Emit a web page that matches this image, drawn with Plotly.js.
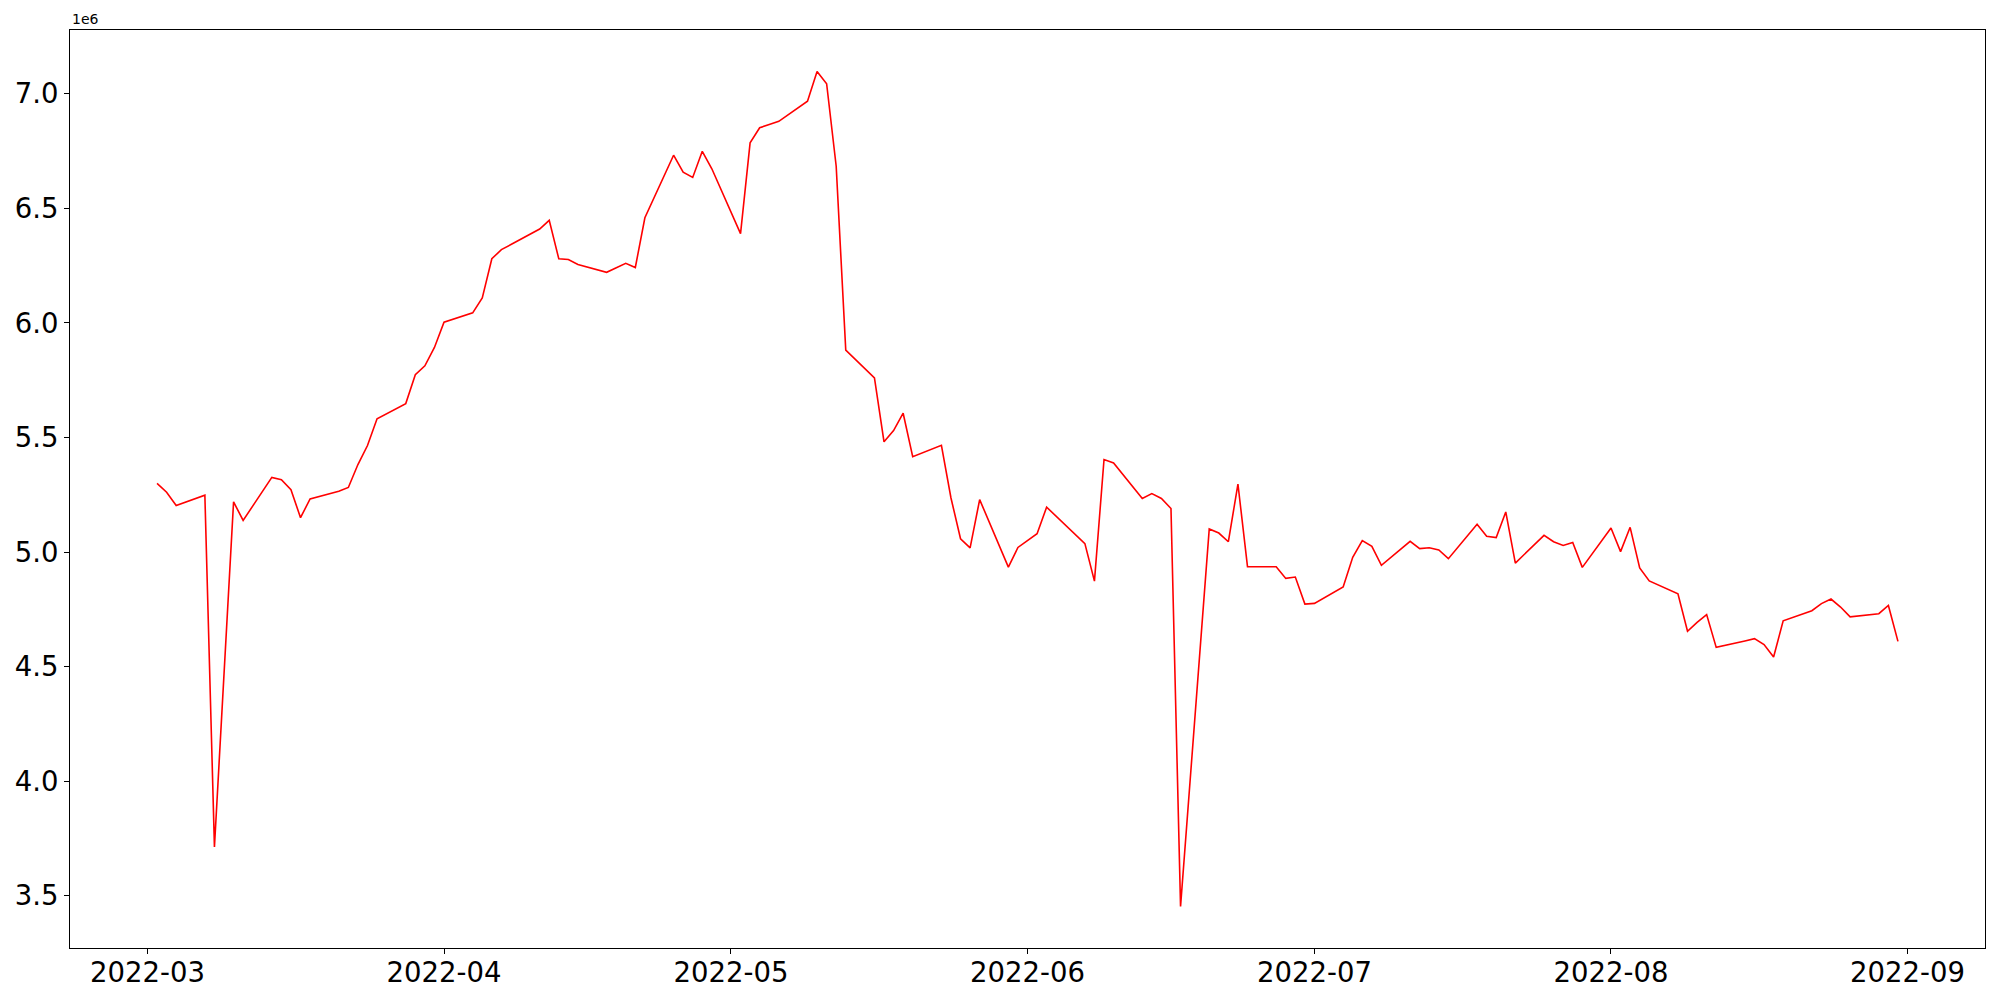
<!DOCTYPE html>
<html>
<head>
<meta charset="utf-8">
<script src="https://cdn.plot.ly/plotly-3.0.1.min.js"></script>
<style>
  html, body { margin: 0; padding: 0; background: #ffffff; }
  #chart { width: 2000px; height: 1000px; }
</style>
</head>
<body>
<div id="chart"></div>
<script>
// Trading dates (x) and values in millions (y, axis offset "1e6")
const dates = [
  "2022-03-02","2022-03-03","2022-03-04","2022-03-07","2022-03-08","2022-03-10","2022-03-11",
  "2022-03-14","2022-03-15","2022-03-16","2022-03-17","2022-03-18","2022-03-21","2022-03-22",
  "2022-03-23","2022-03-24","2022-03-25","2022-03-28","2022-03-29","2022-03-30","2022-03-31",
  "2022-04-01","2022-04-04","2022-04-05","2022-04-06","2022-04-07","2022-04-08","2022-04-11",
  "2022-04-12","2022-04-13","2022-04-14","2022-04-15","2022-04-18","2022-04-19","2022-04-20",
  "2022-04-21","2022-04-22","2022-04-25","2022-04-26","2022-04-27","2022-04-28","2022-04-29",
  "2022-05-02","2022-05-03","2022-05-04","2022-05-05","2022-05-06","2022-05-09","2022-05-10",
  "2022-05-11","2022-05-12","2022-05-13","2022-05-16","2022-05-17","2022-05-18","2022-05-19",
  "2022-05-20","2022-05-23","2022-05-24","2022-05-25","2022-05-26","2022-05-27","2022-05-30",
  "2022-05-31","2022-06-01","2022-06-02","2022-06-03","2022-06-06","2022-06-07","2022-06-08",
  "2022-06-09","2022-06-10","2022-06-13","2022-06-14","2022-06-15","2022-06-16","2022-06-17",
  "2022-06-20","2022-06-21","2022-06-22","2022-06-23","2022-06-24","2022-06-27","2022-06-28",
  "2022-06-29","2022-06-30","2022-07-01","2022-07-04","2022-07-05","2022-07-06","2022-07-07",
  "2022-07-08","2022-07-11","2022-07-12","2022-07-13","2022-07-14","2022-07-15","2022-07-18",
  "2022-07-19","2022-07-20","2022-07-21","2022-07-22","2022-07-25","2022-07-26","2022-07-27",
  "2022-07-28","2022-07-29","2022-08-01","2022-08-02","2022-08-03","2022-08-04","2022-08-05",
  "2022-08-08","2022-08-09","2022-08-10","2022-08-11","2022-08-12","2022-08-15","2022-08-16",
  "2022-08-17","2022-08-18","2022-08-19","2022-08-22","2022-08-23","2022-08-24","2022-08-25",
  "2022-08-26","2022-08-29","2022-08-30","2022-08-31"
];
const valuesMillions = [
  5.300,5.261,5.203,5.248,3.713,5.219,5.138,
  5.326,5.316,5.272,5.150,5.232,5.265,5.282,
  5.382,5.465,5.582,5.648,5.774,5.813,5.893,
  6.003,6.044,6.109,6.280,6.320,6.342,6.410,
  6.448,6.280,6.277,6.255,6.221,6.239,6.260,
  6.242,6.459,6.732,6.658,6.635,6.749,6.673,
  6.390,6.786,6.852,6.866,6.880,6.968,7.097,
  7.044,6.684,5.881,5.760,5.481,5.530,5.606,
  5.416,5.466,5.236,5.058,5.018,5.229,4.934,
  5.020,5.050,5.080,5.196,5.077,5.037,4.873,
  5.404,5.389,5.234,5.255,5.234,5.190,3.453,
  5.101,5.083,5.045,5.297,4.936,4.936,4.885,
  4.891,4.773,4.776,4.848,4.977,5.050,5.025,
  4.942,5.047,5.015,5.019,5.009,4.971,5.121,
  5.069,5.063,5.175,4.952,5.073,5.045,5.029,
  5.042,4.933,5.105,5.002,5.108,4.931,4.874,
  4.818,4.654,4.693,4.727,4.584,4.612,4.622,
  4.596,4.542,4.700,4.744,4.775,4.795,4.760,
  4.717,4.731,4.767,4.610
];
const xTickVals = ["2022-03-01","2022-04-01","2022-05-01","2022-06-01","2022-07-01","2022-08-01","2022-09-01"];
const xTickText = ["2022-03","2022-04","2022-05","2022-06","2022-07","2022-08","2022-09"];
const yTickVals = [3.5,4.0,4.5,5.0,5.5,6.0,6.5,7.0];
const yTickText = ["3.5","4.0","4.5","5.0","5.5","6.0","6.5","7.0"];

const font = "DejaVu Sans, Liberation Sans, sans-serif";

const trace = {
  x: dates,
  y: valuesMillions,
  type: "scatter",
  mode: "lines",
  line: { color: "#ff0000", width: 1.6 },
  hoverinfo: "skip"
};

const layout = {
  width: 2000,
  height: 1000,
  paper_bgcolor: "#ffffff",
  plot_bgcolor: "#ffffff",
  showlegend: false,
  margin: { l: 70, r: 15, t: 30, b: 52, pad: 0 },
  font: { family: font, color: "#000000" },
  xaxis: {
    type: "date",
    range: ["2022-02-20 21:36", "2022-09-09 02:24"],
    tickmode: "array",
    tickvals: xTickVals,
    ticktext: xTickText,
    ticks: "outside",
    ticklen: 5,
    tickwidth: 1,
    tickcolor: "#000000",
    ticklabelstandoff: -5,
    tickfont: { family: font, size: 27.5, color: "#000000" },
    showgrid: false,
    zeroline: false,
    showline: true,
    linecolor: "#000000",
    linewidth: 1,
    mirror: true
  },
  yaxis: {
    range: [3.2718, 7.2786],
    tickmode: "array",
    tickvals: yTickVals,
    ticktext: yTickText,
    ticks: "outside",
    ticklen: 5,
    tickwidth: 1,
    tickcolor: "#000000",
    tickfont: { family: font, size: 27.5, color: "#000000" },
    showgrid: false,
    zeroline: false,
    showline: true,
    linecolor: "#000000",
    linewidth: 1,
    mirror: true
  },
  annotations: [{
    text: "1e6",
    xref: "paper", yref: "paper",
    x: 0, y: 1,
    xanchor: "left", yanchor: "bottom",
    yshift: 1,
    showarrow: false,
    font: { family: font, size: 14, color: "#000000" }
  }]
};

Plotly.newPlot("chart", [trace], layout, { displayModeBar: false, staticPlot: true });
</script>
</body>
</html>
